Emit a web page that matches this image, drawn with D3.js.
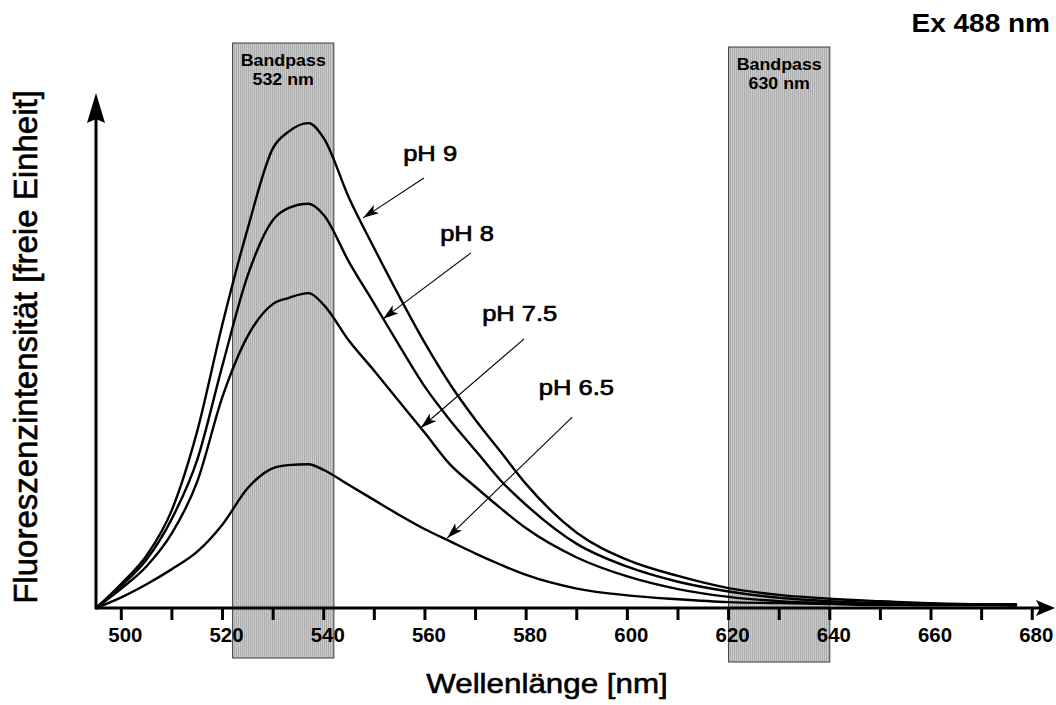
<!DOCTYPE html>
<html lang="de">
<head>
<meta charset="UTF-8">
<title>Fluoreszenzspektren pH</title>
<script src="https://cdnjs.cloudflare.com/ajax/libs/d3/7.8.5/d3.min.js"></script>
<style>
  html, body { margin: 0; padding: 0; background: #fff; }
  svg { display: block; font-family: "Liberation Sans", Arial, sans-serif; }
</style>
</head>
<body>
<svg id="chart" width="1056" height="705"></svg>
<script>
// wavelength grid (nm) and emission intensities
const wavelengths = [495,500,505,510,515,520,525,530,533,537,540,545,550,555,560,565,570,575,580,590,600,610,620,630,640,650,660,670,677];
const ph9  = [0,5.0,10.8,20.2,36.4,58.5,78.2,94.7,98.0,99.8,96.7,84.4,74.0,64.0,54.5,46.0,38.7,32.1,25.5,15.5,9.9,6.6,4.1,2.7,1.9,1.4,1.0,0.8,0.8];
const ph8  = [0,4.6,10.0,18.4,30.5,50.0,68.5,79.9,82.3,83.2,80.9,71.2,62.6,53.9,45.5,38.6,32.4,26.2,21.2,13.2,8.5,5.4,3.4,2.1,1.4,1.0,0.8,0.7,0.6];
const ph75 = [0,4.0,8.6,15.4,26.0,43.5,56.0,62.6,63.8,64.8,62.4,55.0,48.8,42.4,36.0,29.5,24.9,20.5,16.4,10.4,6.5,3.9,2.3,1.4,1.0,0.8,0.6,0.6,0.6];
const ph65 = [0,2.2,4.9,8.0,11.6,17.2,24.7,28.8,29.4,29.6,28.4,25.3,22.2,19.1,16.2,13.7,11.2,8.9,6.8,4.0,2.6,1.8,1.2,1.0,0.8,0.6,0.6,0.6,0.5];

const seriesNames = ["pH 9", "pH 8", "pH 7.5", "pH 6.5"];
// label anchor [nm, value], arrow start and arrow tip [nm, value]
const labelPos   = [[555.7, 92.0], [563.0, 75.5], [571.3, 59.1], [582.5, 43.8]];
const arrowFrom  = [[559.8, 88.5], [569.1, 73.1], [579.6, 55.4], [589.1, 39.3]];
const arrowTo    = [[547.8, 80.3], [551.7, 59.5], [559.2, 37.1], [564.4, 14.4]];

const tickValues = d3.range(500, 681, 10);
const tickLabels = d3.range(500, 681, 20);
const bandCenters = [532, 630];
const bandWidth = 20;

const svg = d3.select("#chart");
const x = d3.scaleLinear().domain([495, 684.5]).range([96, 1055]);
const y = d3.scaleLinear().domain([0, 106]).range([608, 93]);

// striped fill for the bandpass boxes
const defs = svg.append("defs");
const pat = defs.append("pattern").attr("id", "stripes")
  .attr("width", 2).attr("height", 4).attr("patternUnits", "userSpaceOnUse");
pat.append("rect").attr("width", 2).attr("height", 4).attr("fill", "#cbcbcb");
pat.append("rect").attr("width", 1).attr("height", 4).attr("fill", "#adadad");

defs.append("marker").attr("id", "ah")
  .attr("viewBox", "0 0 16 10").attr("refX", 16).attr("refY", 5)
  .attr("markerWidth", 16).attr("markerHeight", 10)
  .attr("markerUnits", "userSpaceOnUse").attr("orient", "auto")
  .append("path").attr("d", "M0,0 L16,5 L0,10 L4,5 Z").attr("fill", "#000");

function txt(g, px, py, s, size, weight, anchor, sx, thick) {
  const t = g.append("text")
    .attr("transform", `translate(${px},${py}) scale(${sx},1)`)
    .attr("text-anchor", anchor)
    .attr("font-size", size)
    .attr("font-weight", weight)
    .attr("fill", "#000")
    .text(s);
  if (thick) t.attr("stroke", "#000").attr("stroke-width", thick);
  return t;
}

// bandpass boxes
bandCenters.forEach((c, i) => {
  const top = 43 + i * 4, bottom = 658 + i * 4;
  const x0 = x(c - bandWidth / 2), x1 = x(c + bandWidth / 2);
  svg.append("rect")
    .attr("x", x0).attr("y", top)
    .attr("width", x1 - x0).attr("height", bottom - top)
    .attr("fill", "url(#stripes)")
    .attr("stroke", "#3a3a3a").attr("stroke-width", 1);
  const cx = (x0 + x1) / 2;
  txt(svg, cx, top + 23, "Bandpass", 16.5, "bold", "middle", 1.08);
  txt(svg, cx, top + 42, c + " nm", 16.5, "bold", "middle", 1.08);
});

// axes
const axisG = svg.append("g");
axisG.append("line")
  .attr("x1", x(495)).attr("x2", x.range()[1] - 10)
  .attr("y1", y(0)).attr("y2", y(0))
  .attr("stroke", "#000").attr("stroke-width", 3);
axisG.append("line")
  .attr("x1", x(495)).attr("x2", x(495))
  .attr("y1", y(0) + 1.5).attr("y2", y.range()[1] + 20)
  .attr("stroke", "#000").attr("stroke-width", 3);

const xr = x.range()[1], yr = y.range()[1];
axisG.append("path")
  .attr("d", `M${xr},${y(0)} L${xr - 19},${y(0) - 8} L${xr - 15},${y(0)} L${xr - 19},${y(0) + 8} Z`)
  .attr("fill", "#000");
axisG.append("path")
  .attr("d", `M${x(495)},${yr} L${x(495) - 9},${yr + 30} L${x(495)},${yr + 26} L${x(495) + 9},${yr + 30} Z`)
  .attr("fill", "#000");

axisG.selectAll(".tick").data(tickValues).join("line")
  .attr("x1", d => x(d)).attr("x2", d => x(d))
  .attr("y1", y(0)).attr("y2", y(0) + 12)
  .attr("stroke", "#000").attr("stroke-width", 3);

tickLabels.forEach(d => txt(axisG, x(d) + 4, 642, d, 20, "bold", "middle", 1.02));

txt(svg, 547, 693, "Wellenlänge [nm]", 28, "normal", "middle", 1.12, 0.6);
svg.append("text")
  .attr("transform", "translate(37,347) rotate(-90)")
  .attr("text-anchor", "middle")
  .attr("font-size", 33)
  .attr("fill", "#000")
  .attr("stroke", "#000").attr("stroke-width", 0.6)
  .text("Fluoreszenzintensität [freie Einheit]");

txt(svg, 1050, 32, "Ex 488 nm", 25, "bold", "end", 1.12);

// spectra
const line = d3.line()
  .x((d, i) => x(wavelengths[i]))
  .y(d => y(d))
  .curve(d3.curveMonotoneX);

svg.append("g").selectAll("path")
  .data([ph9, ph8, ph75, ph65]).join("path")
  .attr("d", line)
  .attr("fill", "none")
  .attr("stroke", "#000")
  .attr("stroke-width", 2.4)
  .attr("stroke-linejoin", "round");

// pH labels with arrows
const ann = svg.append("g");
seriesNames.forEach((name, i) => {
  ann.append("line")
    .attr("x1", x(arrowFrom[i][0])).attr("y1", y(arrowFrom[i][1]))
    .attr("x2", x(arrowTo[i][0])).attr("y2", y(arrowTo[i][1]))
    .attr("stroke", "#000").attr("stroke-width", 1.1)
    .attr("marker-end", "url(#ah)");
  txt(ann, x(labelPos[i][0]), y(labelPos[i][1]), name, 22, "normal", "start", 1.16, 0.7);
});
</script>
</body>
</html>
